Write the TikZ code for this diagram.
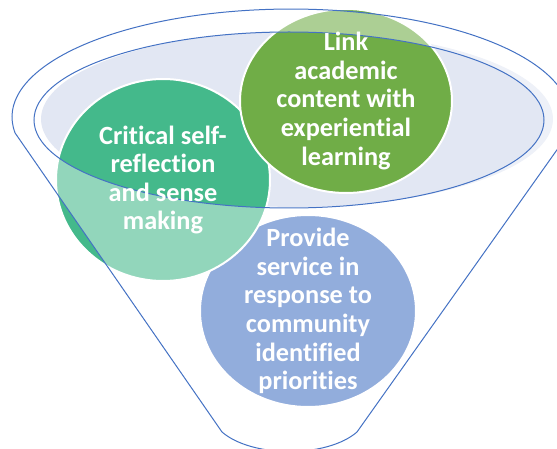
\documentclass[tikz,border=0pt]{standalone}
\usepackage{fontspec}
\setmainfont{Carlito}[Ligatures=NoCommon]
\usetikzlibrary{shapes.geometric}
\definecolor{fgreen}{HTML}{70AD47}
\definecolor{fteal}{HTML}{44B98B}
\definecolor{fblue}{HTML}{4472C4}
\definecolor{fline}{HTML}{4472C4}
\definecolor{ffill}{HTML}{E2E7F3}
\tikzset{
  blob/.style={ellipse, inner sep=0pt, draw=white, line width=2pt},
  label/.style={text=white, align=center, font=\fontsize{26.3}{28.6}\selectfont\bfseries},
  funnelline/.style={draw=fline, line width=1pt}
}
\begin{document}
\begin{tikzpicture}[x=1pt,y=-1pt]
\useasboundingbox (0,0) rectangle (557,449);
\clip (0,0) rectangle (557,449);
\coordinate (fl) at (15.1,133);
\coordinate (bl) at (222,432);
\coordinate (br) at (357,432);
% light fill ellipse behind the circles
\fill[ffill] (297,119) ellipse [x radius=256, y radius=88];
% circles
\node[blob, fill=fblue, minimum width=216pt, minimum height=192pt] (cblue) at (308,311) {};
\node[blob, fill=fteal, minimum width=214pt, minimum height=202pt] (cteal) at (163,180) {};
\node[blob, fill=fgreen, minimum width=212pt, minimum height=184pt] (cgreen) at (346,101) {};
% funnel body overlay (transparent white) with the mouth left open
\fill[white, fill opacity=0.42, even odd rule]
  (fl) arc [start angle=171.5, end angle=373.9, x radius=279, y radius=108]
  -- (br) .. controls (327,458) and (252,458) .. (bl) -- cycle
  (289,120) ellipse [x radius=255, y radius=88];
% funnel outline
\draw[funnelline]
  (fl) arc [start angle=171.5, end angle=373.9, x radius=279, y radius=108]
  -- (br) .. controls (327,458) and (252,458) .. (bl) -- cycle;
\draw[funnelline] (289,120) ellipse [x radius=255, y radius=88];
% labels
\node[label] (tgreen) at (cgreen.center) {Link\\academic\\content with\\experiential\\learning};
\node[label] (tteal) at (cteal.center) {Critical self-\\reflection\\and sense\\making};
\node[label] (tblue) at (cblue.center) {Provide\\service in\\response to\\community\\identified\\priorities};
\end{tikzpicture}
\end{document}
